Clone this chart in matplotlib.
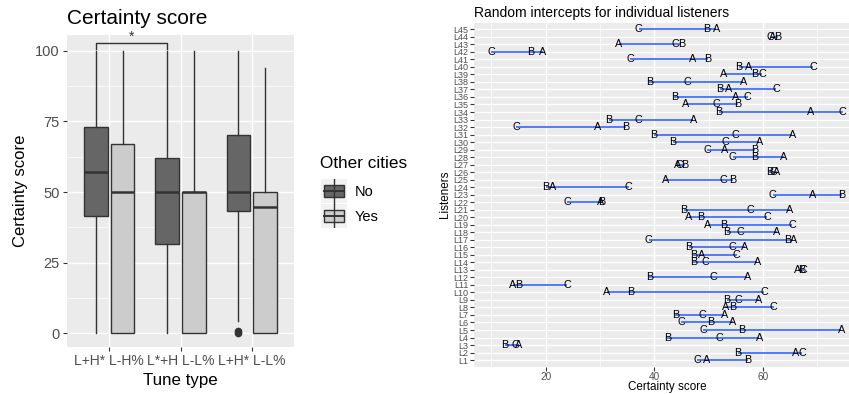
import numpy as np
import matplotlib
matplotlib.use("Agg")
import matplotlib.pyplot as plt
from matplotlib.patches import Rectangle

plt.rcParams["font.family"] = ["Liberation Sans", "DejaVu Sans"]

# ── Data: left panel (box stats) ──────────────────────────────
tune_types = ["L+H* L-H%", "L*+H L-L%", "L+H* L-L%"]
groups = ["No", "Yes"]
q1 = {"No": [41.5, 31.8, 43.2], "Yes": [0, 0, 0]}
med = {"No": [57.2, 50.0, 50.0], "Yes": [50.0, 50.0, 44.8]}
q3 = {"No": [73.1, 62.0, 70.2], "Yes": [67.0, 50.0, 50.0]}
whis_lo = {"No": [0, 0, 4.4], "Yes": [0, 0, 0]}
whis_hi = {"No": [100, 100, 100], "Yes": [100, 100, 94.0]}
outliers = {"No": [[], [], [0, 0.9]], "Yes": [[], [], []]}
fills = {"No": "#666666", "Yes": "#CCCCCC"}

# ── Data: right panel (random intercepts per listener) ────────
listeners = [f"L{i}" for i in range(1, 46)]
score_a = [49.6, 66.0, 15.0, 59.3, 74.4, 54.5, 52.9, 53.1, 59.2, 31.3,
           14.0, 57.1, 66.4, 59.0, 48.8, 56.7, 65.6, 62.6, 49.9, 46.4,
           64.9, 30.2, 69.2, 21.3, 42.0, 62.6, 44.2, 63.9, 52.9, 59.3,
           65.4, 29.6, 47.2, 68.7, 45.8, 54.9, 53.7, 56.4, 52.8, 57.4,
           47.0, 19.5, 33.5, 61.7, 51.4]
score_b = [57.2, 55.4, 12.5, 42.4, 56.1, 50.4, 43.9, 54.5, 53.3, 35.6,
           15.0, 39.1, 67.2, 47.2, 47.2, 46.3, 64.6, 53.3, 52.8, 48.5,
           45.4, 30.3, 74.6, 20.0, 54.5, 61.2, 45.6, 58.5, 58.5, 43.4,
           39.9, 34.7, 31.7, 51.9, 55.4, 43.7, 52.1, 39.1, 58.5, 55.6,
           49.9, 17.2, 45.0, 62.8, 49.6]
score_c = [47.9, 67.2, 14.5, 51.9, 49.0, 45.0, 48.8, 62.0, 55.4, 60.2,
           24.0, 50.8, 67.5, 49.4, 55.2, 54.3, 39.0, 55.9, 65.4, 60.8,
           57.7, 24.0, 61.8, 35.3, 52.8, 62.0, 44.6, 54.4, 49.7, 53.1,
           55.0, 14.6, 37.0, 74.7, 51.5, 57.2, 62.5, 46.1, 59.9, 69.3,
           35.6, 10.0, 43.9, 61.4, 37.1]

W, H = 849, 394
BG = "#EBEBEB"
TXT = "#4D4D4D"


def px_axes(fig, x0, y0, x1, y1):
    return fig.add_axes([x0 / W, 1 - y1 / H, (x1 - x0) / W, (y1 - y0) / H])


def gg_style(ax, tick_size):
    ax.set_facecolor(BG)
    for s in ax.spines.values():
        s.set_visible(False)
    ax.set_axisbelow(True)
    ax.grid(True, which="major", color="white", linewidth=1.0)
    ax.grid(True, which="minor", color="white", linewidth=0.5)
    ax.tick_params(which="major", length=3, width=0.8, color="#333333",
                   labelcolor=TXT, labelsize=tick_size, pad=2)
    ax.tick_params(which="minor", length=0)


fig = plt.figure(figsize=(W / 100, H / 100), dpi=100)
fig.patch.set_facecolor("white")

# ── Left panel: boxplot ───────────────────────────────────────
ax = px_axes(fig, 66.7, 35, 294.3, 346.7)
gg_style(ax, 10)
dodge = 0.1875
for gi, g in enumerate(groups):
    stats = []
    for i in range(len(tune_types)):
        stats.append(dict(med=med[g][i], q1=q1[g][i], q3=q3[g][i],
                          whislo=whis_lo[g][i], whishi=whis_hi[g][i],
                          fliers=outliers[g][i]))
    pos = np.arange(1, len(tune_types) + 1) + (gi * 2 - 1) * dodge
    ax.bxp(stats, positions=pos, widths=0.33, patch_artist=True,
           showcaps=False, manage_ticks=False,
           boxprops=dict(facecolor=fills[g], edgecolor="#333333", linewidth=1.0),
           whiskerprops=dict(color="#333333", linewidth=1.0),
           medianprops=dict(color="#333333", linewidth=1.8),
           flierprops=dict(marker="o", markerfacecolor="#333333",
                           markeredgecolor="#333333", markersize=4.5))

ax.set_xlim(0.4, 3.6)
ax.set_ylim(-4.7, 105.6)
ax.set_xticks([1, 2, 3])
ax.set_xticklabels(tune_types)
ax.set_yticks([0, 25, 50, 75, 100])
ax.set_yticks([12.5, 37.5, 62.5, 87.5], minor=True)
ax.tick_params(axis="y", labelsize=10.5)

# significance bracket between the two "No" boxes
br_lo, br_hi = 100.5, 102.8
bx = [1 - dodge, 2 - dodge]
ax.plot([bx[0], bx[0], bx[1], bx[1]], [br_lo, br_hi, br_hi, br_lo],
        color="#333333", linewidth=1.0, clip_on=False)
ax.text(np.mean(bx), br_hi - 0.2, "*", ha="center", va="bottom",
        fontsize=10, color="#333333")

fig.text(66.7 / W, 1 - 19 / H, "Certainty score", fontsize=15,
         ha="left", va="center")
fig.text(21 / W, 1 - 191 / H, "Certainty score", fontsize=12,
         rotation=90, ha="center", va="center")
fig.text(180 / W, 1 - 380 / H, "Tune type", fontsize=12.2,
         ha="center", va="center")

# legend
fig.text(320 / W, 1 - 164 / H, "Other cities", fontsize=12.3,
         ha="left", va="center")
lg = px_axes(fig, 321, 179, 347, 228)
lg.set_xlim(0, 1)
lg.set_ylim(0, 2)
lg.axis("off")
for gi, g in enumerate(groups):
    y0 = 1 - gi
    lg.add_patch(Rectangle((0, y0 + 0.02), 1, 0.96, facecolor="#F2F2F2",
                           edgecolor="none"))
    lg.plot([0.5, 0.5], [y0 + 0.02, y0 + 0.98], color="#333333", lw=1.0)
    lg.add_patch(Rectangle((0.12, y0 + 0.25), 0.76, 0.5,
                           facecolor=fills[g], edgecolor="#333333", lw=1.0))
    lg.plot([0.12, 0.88], [y0 + 0.5, y0 + 0.5], color="#333333", lw=1.4)
    fig.text(355 / W, 1 - (192 + gi * 25) / H, g, fontsize=10.5,
             ha="left", va="center")

# ── Right panel: intercept ranges ─────────────────────────────
ax2 = px_axes(fig, 474, 23.3, 849, 366.7)
gg_style(ax2, 6.5)
ypos = np.arange(1, len(listeners) + 1)
lo = np.minimum(np.minimum(score_a, score_b), score_c)
hi = np.maximum(np.maximum(score_a, score_b), score_c)
ax2.hlines(ypos, lo, hi, color="#3366FF", linewidth=1.2, zorder=2)
for letter, vals in [("A", score_a), ("B", score_b), ("C", score_c)]:
    for x, y in zip(vals, ypos):
        ax2.text(x, y, letter, ha="center", va="center", fontsize=7.8,
                 color="black", zorder=3)

ax2.set_xlim(6.8, 75.85)
ax2.set_ylim(0.12, 45.8)
ax2.set_xticks([20, 40, 60])
ax2.set_xticks([10, 30, 50, 70], minor=True)
ax2.set_yticks(ypos)
ax2.set_yticklabels(listeners)
ax2.tick_params(axis="y", pad=1)
ax2.tick_params(axis="x", labelsize=7.2, pad=1)

fig.text(474 / W, 1 - 13.3 / H, "Random intercepts for individual listeners",
         fontsize=10, ha="left", va="center")
fig.text(445 / W, 1 - 194 / H, "Listeners", fontsize=8.4, rotation=90,
         ha="center", va="center")
fig.text(667 / W, 1 - 387 / H, "Certainty score", fontsize=8.4,
         ha="center", va="center")

fig.savefig("out.png", dpi=100, facecolor="white")
